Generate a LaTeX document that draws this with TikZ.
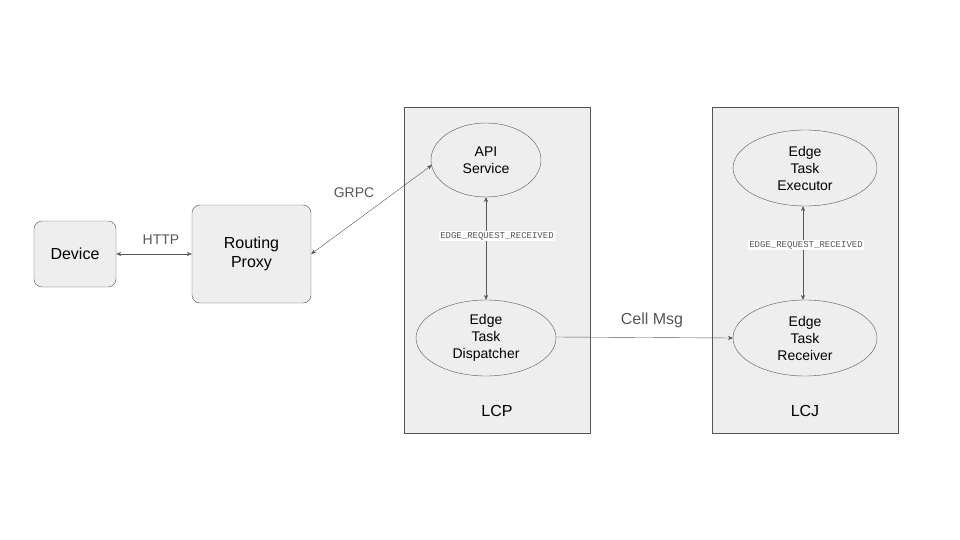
\documentclass[tikz,border=0pt]{standalone}
\usepackage{fontspec}
\setmainfont{Liberation Sans}
\setmonofont{Liberation Mono}
\usetikzlibrary{arrows.meta}
\definecolor{bx}{HTML}{EEEEEE}
\definecolor{ln}{HTML}{555555}
\begin{document}
\begin{tikzpicture}[x=1pt,y=-1pt,
  box/.style={draw=ln,fill=bx,rounded corners=8pt,align=center,font=\fontsize{16}{19}\selectfont},
  cont/.style={draw=ln,fill=bx},
  ell/.style={draw=ln,fill=bx,ellipse,align=center,font=\fontsize{14}{17}\selectfont},
  conn/.style={draw=ln,{Stealth[length=5pt,width=4pt]}-{Stealth[length=5pt,width=4pt]}},
  one/.style={draw=ln,-{Stealth[length=5pt,width=4pt]}},
  lab/.style={text=ln,font=\fontsize{14}{17}\selectfont},
  mono/.style={fill=white,inner sep=1pt,font=\ttfamily\fontsize{9}{11}\selectfont,text=ln}]
\useasboundingbox (0,0) rectangle (960,540);
\draw[cont] (404,107) rectangle (590,433);
\draw[cont] (712,107) rectangle (898,433);
\node[box,minimum width=82pt,minimum height=66pt] (dev) at (75,254) {Device};
\node[box,minimum width=119pt,minimum height=98pt] (rp) at (251.5,254) {Routing\\Proxy};
\draw[ln,fill=bx] (486,160) ellipse (55 and 37);
\node[align=center,font=\fontsize{14}{17}\selectfont] (api) at (486,160) {API\\Service};
\draw[ln,fill=bx] (486,338) ellipse (70 and 38);
\node[align=center,font=\fontsize{14}{17}\selectfont] (disp) at (486,338) {Edge\\Task\\Dispatcher};
\draw[ln,fill=bx] (805,168) ellipse (72 and 38);
\node[align=center,font=\fontsize{14}{17}\selectfont] (exe) at (805,168) {Edge\\Task\\Executor};
\draw[ln,fill=bx] (805,338) ellipse (72 and 38);
\node[align=center,font=\fontsize{14}{17}\selectfont] (rec) at (805,338) {Edge\\Task\\Receiver};
\coordinate (apiL) at (432,165);
\coordinate (apiB) at (486,197);
\coordinate (dispT) at (486,300);
\coordinate (dispR) at (556,337);
\coordinate (recL) at (733,338);
\coordinate (exeB) at (803,206);
\coordinate (recT) at (803,300);
\draw[conn] (dev.east) -- (rp.west);
\node[lab] (http) at (161,240) {HTTP};
\draw[conn] (rp.east) -- (apiL);
\node[lab] (grpc) at (354,193) {GRPC};
\draw[conn] (apiB) -- (dispT);
\node[mono] (l1) at (497,236) {EDGE\_REQUEST\_RECEIVED};
\draw[one] (dispR) -- (recL);
\node[lab,font=\fontsize{16}{19}\selectfont] (cm) at (652,320) {Cell Msg};
\draw[conn] (exeB) -- (recT);
\node[mono] (l2) at (806,245) {EDGE\_REQUEST\_RECEIVED};
\node[font=\fontsize{16}{19}\selectfont] (lcp) at (497,411) {LCP};
\node[font=\fontsize{16}{19}\selectfont] (lcj) at (805,411) {LCJ};
\end{tikzpicture}
\end{document}
